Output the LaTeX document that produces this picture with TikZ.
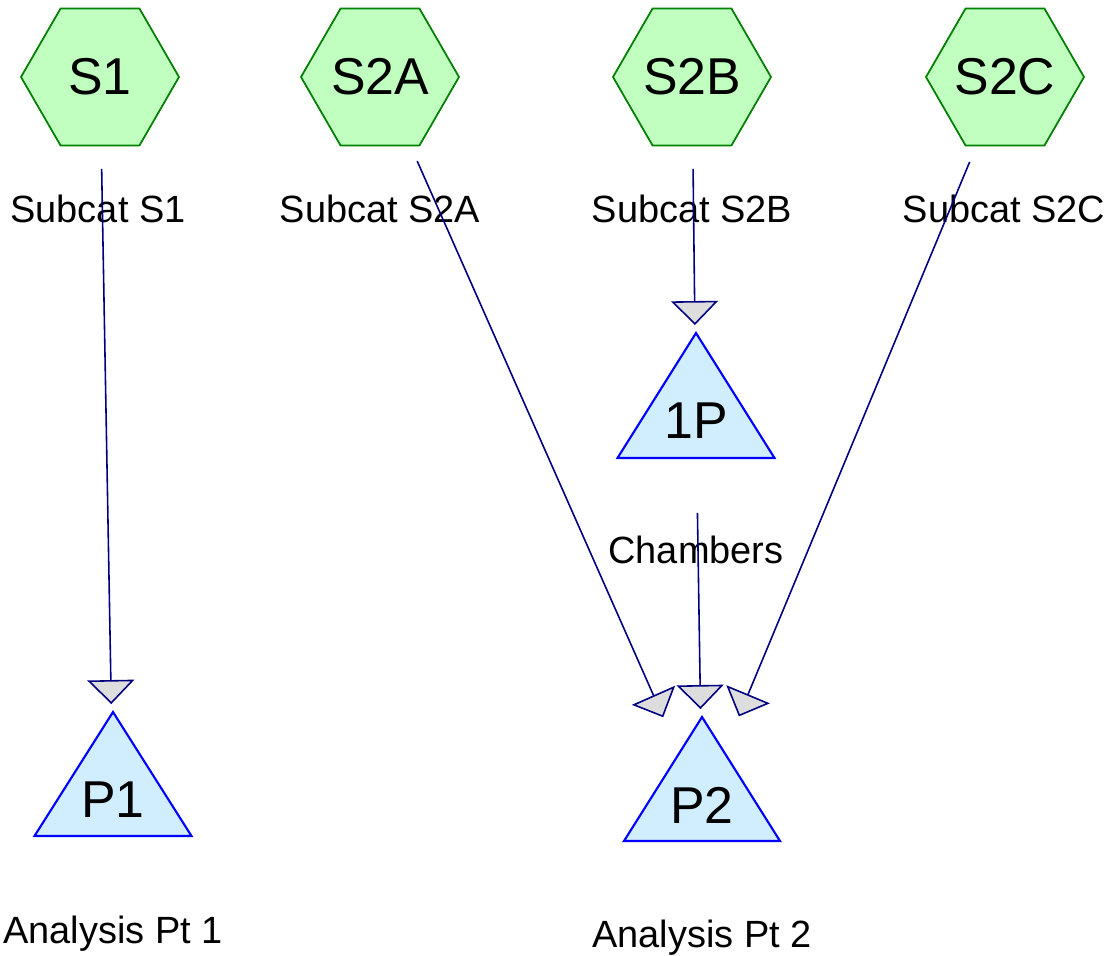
\documentclass[tikz,border=0pt]{standalone}
\usepackage{fontspec}
\setmainfont{Liberation Sans}
\usetikzlibrary{arrows.meta,shapes.geometric}

\definecolor{hexfill}{HTML}{C0FFC0}
\definecolor{hexline}{HTML}{008000}
\definecolor{trifill}{HTML}{D0EEFF}
\definecolor{triline}{HTML}{0000FF}
\definecolor{linkcol}{HTML}{000080}
\definecolor{tipfill}{HTML}{DDDDDD}

\begin{document}
\begin{tikzpicture}[
  x=0.02cm, y=-0.02cm,
  subcat/.style={draw=hexline, fill=hexfill, line width=1pt,
                 regular polygon, regular polygon sides=6,
                 minimum size=3.16cm, inner sep=0pt,
                 label={[bigtxt]center:#1}},
  bigtxt/.style={inner sep=0pt, font=\fontsize{29.5}{34}\selectfont},
  tri/.style={draw=triline, fill=trifill, line width=1.2pt},
  caption/.style={anchor=base, inner sep=0pt,
                  font=\fontsize{21.6}{25}\selectfont},
  every edge/.style={draw=linkcol, line width=0.9pt,
                     -{Triangle[length=0.48cm, width=0.94cm, fill=tipfill]},
                     shorten <=1.84cm, shorten >=1.92cm}
]
  \useasboundingbox (0,0) rectangle (1115,956);

  % sub-catchments
  \node[subcat=S1]  (s1)  at (100,77)  {};
  \node[subcat=S2A] (s2a) at (380,77)  {};
  \node[subcat=S2B] (s2b) at (692,77)  {};
  \node[subcat=S2C] (s2c) at (1005,77) {};

  \node[caption] (s1lbl)  at (98,222)   {Subcat S1};
  \node[caption] (s2albl) at (380,222)  {Subcat S2A};
  \node[caption] (s2blbl) at (692,222)  {Subcat S2B};
  \node[caption] (s2clbl) at (1004,222) {Subcat S2C};

  % points of interest
  \path[tri] (113,712) -- ++(78.5,124) -- ++(-157,0) -- cycle;
  \node[bigtxt] (p1) at (113,800) {P1};
  \path[tri] (696,333) -- ++(78.5,125) -- ++(-157,0) -- cycle;
  \node[bigtxt] (onep) at (696,421) {1P};
  \path[tri] (702,717) -- ++(78,124) -- ++(-156,0) -- cycle;
  \node[bigtxt] (p2) at (702,805) {P2};

  \node[caption] (p1lbl)   at (113,943) {Analysis Pt 1};
  \node[caption] (oneplbl) at (696,563) {Chambers};
  \node[caption] (p2lbl)   at (702,947) {Analysis Pt 2};

  % flow links
  \draw (s1.center)   edge (p1.center);
  \draw (s2a.center)  edge (p2.center);
  \draw (s2b.center)  edge (onep.center);
  \draw (s2c.center)  edge (p2.center);
  \draw (onep.center) edge (p2.center);
\end{tikzpicture}
\end{document}
